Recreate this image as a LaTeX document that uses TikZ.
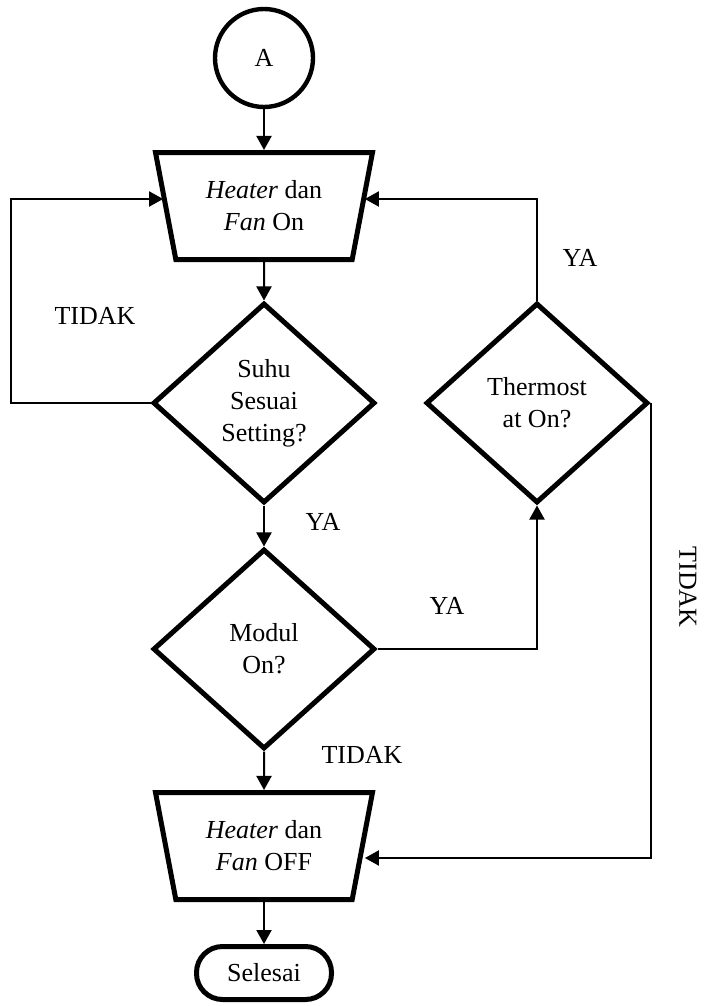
\documentclass[tikz,border=0pt]{standalone}
\usepackage{fontspec}
\setmainfont{Liberation Serif}
\usetikzlibrary{shapes.geometric,arrows.meta}

\begin{document}
\begin{tikzpicture}[x=0.5pt, y=-0.5pt,
    font=\fontsize{13}{16}\selectfont,
    box/.style={draw, line width=2.5pt, align=center, inner sep=0pt},
    io/.style={box, trapezium, shape border rotate=180, trapezium angle=68,
        trapezium stretches body, minimum width=108.5pt, minimum height=53.5pt},
    decide/.style={box, diamond, minimum width=111pt, minimum height=100pt},
    flow/.style={line width=1pt, -{Triangle[length=7pt,width=7.5pt]}},
    link/.style={line width=1pt}]

    \useasboundingbox (0,0) rectangle (704,1006);

    % shapes
    \node[box, circle, line width=2.2pt, minimum size=49pt] (start) at (264, 58) {A};

    \node[io] (heatOn) at (264, 206) {\textit{Heater} dan\\\textit{Fan} On};

    \node[decide] (suhu) at (264, 403) {Suhu\\Sesuai\\Setting?};

    \node[decide] (thermo) at (537, 403) {Thermost\\at On?};

    \node[decide] (modul) at (264, 649) {Modul\\On?};

    \node[io] (heatOff) at (264, 846) {\textit{Heater} dan\\\textit{Fan} OFF};

    \node[box, rounded corners=13pt, minimum width=67.5pt, minimum height=26.5pt] (stop) at (264, 973) {Selesai};

    % connectors
    \draw[flow] (start) -- (heatOn);
    \draw[flow] (heatOn) -- (suhu);
    \draw[flow] (suhu) -- (modul);
    \draw[flow] (modul) -- (heatOff);
    \draw[flow] (heatOff) -- (stop);

    \draw[flow] (suhu.west) -- ++(-140,0) |- ([yshift=3.5pt]heatOn.west);
    \draw[flow] (modul.east) -| (thermo.south);
    \draw[flow] (thermo.north) |- ([yshift=3.5pt]heatOn.east);
    \draw[flow] (thermo.east) |- ([yshift=-6pt]heatOff.east);

    % labels
    \node (lblTidakL) at (95, 316) {TIDAK};
    \node (lblYaSuhu) at (323, 522) {YA};
    \node (lblYaModul) at (447, 606) {YA};
    \node (lblYaThermo) at (580, 258) {YA};
    \node (lblTidakModul) at (362, 755) {TIDAK};
    \node[rotate=-90] (lblTidakR) at (688, 587) {TIDAK};
\end{tikzpicture}
\end{document}
